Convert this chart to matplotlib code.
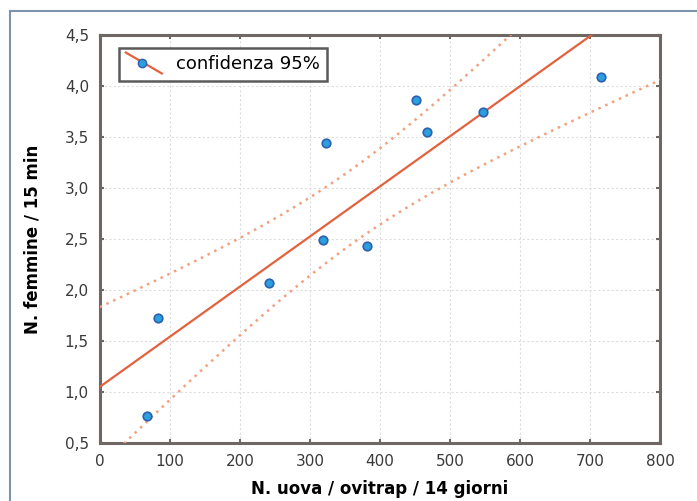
import numpy as np
import matplotlib.pyplot as plt
from matplotlib.patches import Rectangle
from matplotlib.lines import Line2D
from matplotlib.legend_handler import HandlerBase

# data
uova = [67, 83, 241, 323, 319, 381, 451, 467, 547, 716]
femmine = [0.76, 1.73, 2.07, 3.44, 2.49, 2.43, 3.86, 3.55, 3.75, 4.09]
xticks = [0, 100, 200, 300, 400, 500, 600, 700, 800]
yticks = [0.5, 1.0, 1.5, 2.0, 2.5, 3.0, 3.5, 4.0, 4.5]
ytick_labels = ["0,5", "1,0", "1,5", "2,0", "2,5", "3,0", "3,5", "4,0", "4,5"]

x = np.array(uova, dtype=float)
y = np.array(femmine)
n = len(x)
slope, intercept = np.polyfit(x, y, 1)
resid = y - (intercept + slope * x)
s = np.sqrt(np.sum(resid ** 2) / (n - 2))
t = 2.306  # t(0.975, 8)
xx = np.linspace(-20, 820, 200)
yy = intercept + slope * xx
half = t * s * np.sqrt(1 / n + (xx - x.mean()) ** 2 / np.sum((x - x.mean()) ** 2))

line_col = "#e2623d"
band_col = "#f3a07f"
pt_face = "#2aa0dd"
pt_edge = "#2f5fb0"


class SlantHandler(HandlerBase):
    # slanted line with a dot, like the original legend key
    def create_artists(self, legend, orig, xd, yd, w, h, fs, trans):
        ln = Line2D([0, w], [h + 3, -3], color=line_col, lw=1.6, transform=trans)
        dot = Line2D([w * 0.45], [h * 0.5], marker="o", markersize=6, ls="",
                     markerfacecolor=pt_face, markeredgecolor=pt_edge, transform=trans)
        return [ln, dot]


fig = plt.figure(figsize=(6.97, 5.01), dpi=100)
# outer frame
fig.patches.append(Rectangle((10 / 697, -0.1), 1.2, (501 - 11) / 501 + 0.1,
                             transform=fig.transFigure, fill=False,
                             edgecolor="#7d95aa", linewidth=1.5))
ax = fig.add_axes([100 / 697, 58 / 501, 560 / 697, 408 / 501])

ax.plot(xx, yy, color=line_col, lw=1.6, zorder=3)
ax.plot(xx, yy + half, color=band_col, lw=1.8, ls=(0, (1, 2)), zorder=3)
ax.plot(xx, yy - half, color=band_col, lw=1.8, ls=(0, (1, 2)), zorder=3)
ax.scatter(x, y, s=38, color=pt_face, edgecolors=pt_edge, linewidths=1.2, zorder=4)

ax.set_xlim(0, 800)
ax.set_ylim(0.5, 4.5)
ax.set_xticks(xticks)
ax.set_yticks(yticks)
ax.set_yticklabels(ytick_labels)
for lab in ax.get_xticklabels() + ax.get_yticklabels():
    lab.set_fontsize(11)
    lab.set_color("#3a3a3a")
ax.tick_params(direction="in", length=3, width=1.5, color="#6e6764",
               top=True, right=True, pad=8)
ax.grid(True, color="#dddddd", ls=(0, (2, 2)), lw=0.8)
for sp in ax.spines.values():
    sp.set_linewidth(2.2)
    sp.set_color("#6e6764")

ax.set_xlabel("N. uova / ovitrap / 14 giorni", fontsize=12,
              fontweight="bold", labelpad=8)
ax.set_ylabel("N. femmine / 15 min", fontsize=12,
              fontweight="bold", labelpad=17)

leg = ax.legend([object()], ["confidenza 95%"], loc="upper left",
                handler_map={object: SlantHandler()},
                bbox_to_anchor=(0.017, 0.99), fancybox=False, framealpha=1,
                edgecolor="#5a5a5a", prop={"size": 13},
                handlelength=2.0, handletextpad=0.8, borderpad=0.4)
leg.get_frame().set_linewidth(1.8)

fig.savefig("out.png", dpi=100)
